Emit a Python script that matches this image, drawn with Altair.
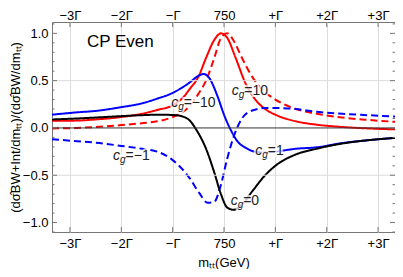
import altair as alt
import pandas as pd

# ---------------- data (x in units of Gamma around 750 GeV) ----------------
x_cg10 = [-3.35, -2.86, -2.5, -2.0, -1.6, -1.3, -1.0, -0.8, -0.67, -0.5, -0.35, -0.19, -0.06, 0.06, 0.22, 0.42, 0.61, 0.8, 1.0, 1.4, 1.8, 2.3, 2.8, 3.33]
y_cg10 = [0.075, 0.078, 0.09, 0.115, 0.15, 0.19, 0.24, 0.32, 0.41, 0.54, 0.74, 0.93, 1.0, 0.955, 0.75, 0.47, 0.3, 0.2, 0.14, 0.07, 0.035, 0.01, -0.005, -0.015]

x_cgm10 = [-3.35, -2.86, -2.5, -2.0, -1.6, -1.3, -1.0, -0.8, -0.67, -0.5, -0.35, -0.19, -0.06, 0.06, 0.19, 0.35, 0.55, 0.8, 1.0, 1.4, 1.8, 2.3, 2.8, 3.33]
y_cgm10 = [-0.005, 0.0, 0.01, 0.03, 0.05, 0.07, 0.115, 0.17, 0.23, 0.36, 0.5, 0.74, 0.95, 1.0, 0.92, 0.74, 0.54, 0.38, 0.3, 0.2, 0.15, 0.11, 0.085, 0.065]

x_cg1 = [-3.35, -2.86, -2.5, -2.0, -1.6, -1.3, -1.0, -0.67, -0.5, -0.4, -0.29, -0.13, 0.0, 0.13, 0.26, 0.42, 0.6, 0.8, 1.0, 1.4, 1.8, 2.3, 2.8, 3.33]
y_cg1 = [0.14, 0.165, 0.18, 0.22, 0.26, 0.31, 0.37, 0.48, 0.55, 0.57, 0.53, 0.34, 0.14, -0.02, -0.14, -0.21, -0.25, -0.26, -0.25, -0.22, -0.205, -0.16, -0.13, -0.105]

x_cgm1 = [-3.35, -2.86, -2.5, -2.0, -1.6, -1.3, -1.0, -0.67, -0.48, -0.32, -0.19, -0.06, 0.06, 0.19, 0.35, 0.55, 0.8, 1.0, 1.4, 1.8, 2.3, 2.8, 3.33]
y_cgm1 = [-0.12, -0.14, -0.155, -0.19, -0.22, -0.25, -0.34, -0.53, -0.69, -0.79, -0.78, -0.6, -0.33, -0.09, 0.1, 0.185, 0.21, 0.21, 0.2, 0.17, 0.15, 0.135, 0.12]

x_cg0 = [-3.35, -2.86, -2.5, -2.0, -1.6, -1.3, -1.0, -0.8, -0.67, -0.55, -0.35, -0.19, -0.06, 0.06, 0.19, 0.35, 0.55, 0.8, 1.0, 1.4, 1.8, 2.3, 2.8, 3.33]
y_cg0 = [0.09, 0.1, 0.11, 0.125, 0.135, 0.14, 0.137, 0.12, 0.08, -0.01, -0.22, -0.47, -0.7, -0.84, -0.865, -0.81, -0.67, -0.5, -0.4, -0.28, -0.22, -0.165, -0.13, -0.105]

series_names = ["cg=10", "cg=-10", "cg=1", "cg=-1", "cg=0"]
series_colors = ["#ff0000", "#ff0000", "#0000ff", "#0000ff", "#000000"]
series_dash = [[1, 0], [7, 4], [1, 0], [7, 4], [1, 0]]

x_tick_vals = [-3, -2, -1, 0, 1, 2, 3]
x_tick_labels = ["−3Γ", "−2Γ", "−Γ", "750", "+Γ", "+2Γ", "+3Γ"]
y_major = [-1.0, -0.5, 0.0, 0.5, 1.0]
y_minor = [-1.1, -0.9, -0.8, -0.7, -0.6, -0.4, -0.3, -0.2, -0.1, 0.1, 0.2, 0.3, 0.4, 0.6, 0.7, 0.8, 0.9, 1.1]
y_grid = [-0.5, 0.5]

lbl_x = [-1.03, 0.15, 0.61, 0.13, -2.16]
lbl_y = [0.22, 0.35, -0.285, -0.81, -0.337]
lbl_val = ["=−10", "=10", "=1", "=0", "=−1"]

# ---------------- build tables ----------------
rows = []
for name, xs, ys in zip(series_names,
                        [x_cg10, x_cgm10, x_cg1, x_cgm1, x_cg0],
                        [y_cg10, y_cgm10, y_cg1, y_cgm1, y_cg0]):
    for i, (a, b) in enumerate(zip(xs, ys)):
        rows.append({"x": a, "y": b, "series": name, "i": i})
df = pd.DataFrame(rows)
lbl = pd.DataFrame({"x": lbl_x, "y": lbl_y, "val": lbl_val, "c": "c", "g": "g"})
xt = pd.DataFrame({"v": x_tick_vals})
ymaj = pd.DataFrame({"v": y_major})
ymin = pd.DataFrame({"v": y_minor})
yg = pd.DataFrame({"v": y_grid})
zero = pd.DataFrame({"v": [0.0]})

W, H = 343, 210
PAD_L, PAD_T, PAD_B = 44, 14, 37
FONT = "Liberation Sans"
xs_ = alt.Scale(domain=[-3.35, 3.33], nice=False, zero=False)
ys_ = alt.Scale(domain=[-1.1, 1.12], nice=False, zero=False)

lab_expr = ""
for v, l in zip(x_tick_vals, x_tick_labels):
    lab_expr += f"datum.value == {v} ? '{l}' : "
lab_expr += "''"

TICK = "#777777"

hgrid = alt.Chart(yg).mark_rule(color="#dcdcdc", strokeWidth=1).encode(
    y=alt.Y("v:Q", scale=ys_, axis=None))

zline = alt.Chart(zero).mark_rule(color="#333333", strokeWidth=1).encode(
    y=alt.Y("v:Q", scale=ys_, axis=None))

# top axis + ticks on top/bottom edges
xtick_top = alt.Chart(xt).mark_rule(color=TICK, strokeWidth=1).encode(
    x=alt.X("v:Q", scale=xs_, title=None,
            axis=alt.Axis(orient="top", values=x_tick_vals, labelExpr=lab_expr,
                          grid=False, ticks=False, domain=False, labelPadding=0,
                          labelFontSize=13, labelFont=FONT, labelColor="#000")),
    y=alt.value(0), y2=alt.value(5))
xtick_bot = alt.Chart(xt).mark_rule(color=TICK, strokeWidth=1).encode(
    x=alt.X("v:Q", scale=xs_, axis=None),
    y=alt.value(H - 5), y2=alt.value(H))

def ytick(data, x0, x1):
    return alt.Chart(data).mark_rule(color=TICK, strokeWidth=1).encode(
        y=alt.Y("v:Q", scale=ys_, axis=None), x=alt.value(x0), x2=alt.value(x1))

yt_lmaj = ytick(ymaj, 0, 5)
yt_lmin = ytick(ymin, 0, 2.5)
yt_rmaj = ytick(ymaj, W - 5, W)
yt_rmin = ytick(ymin, W - 2.5, W)

lines = alt.Chart(df).mark_line(strokeWidth=2, interpolate="monotone").encode(
    x=alt.X("x:Q", scale=xs_, title="mₜₜ(GeV)",
            axis=alt.Axis(orient="bottom", values=x_tick_vals, labelExpr=lab_expr,
                          grid=True, gridColor="#dcdcdc", gridWidth=1,
                          ticks=False, domain=False, labelPadding=5,
                          labelFontSize=13, labelFont=FONT, labelColor="#000",
                          titleFont=FONT, titleFontSize=13, titleFontWeight="normal",
                          titleColor="#000", titleY=34, titleBaseline="alphabetic")),
    y=alt.Y("y:Q", scale=ys_, title="(dσ̂BW+Int/dmₜₜ)/(dσ̂BW/dmₜₜ)",
            axis=alt.Axis(orient="left", values=y_major, format=".1f", grid=False, ticks=False,
                          domain=False, labelPadding=4, labelFontSize=13,
                          labelFont=FONT, labelColor="#000",
                          titleFont=FONT, titleFontSize=13, titleFontWeight="normal",
                          titleColor="#000", titleX=-37, titleY=H / 2,
                          titleBaseline="middle", titleAngle=-90)),
    color=alt.Color("series:N", scale=alt.Scale(domain=series_names, range=series_colors), legend=None),
    strokeDash=alt.StrokeDash("series:N", scale=alt.Scale(domain=series_names, range=series_dash), legend=None),
    order="i:Q",
)

base_lbl = alt.Chart(lbl).encode(
    x=alt.X("x:Q", scale=xs_, axis=None), y=alt.Y("y:Q", scale=ys_, axis=None))

def lbl_layers(halo):
    kw = dict(stroke="white", strokeWidth=4, strokeOpacity=0.75, opacity=1) if halo else {}
    col = "white" if halo else "#222"
    c = base_lbl.mark_text(font=FONT, fontSize=14, fontStyle="italic", align="left",
                           baseline="alphabetic", color=col, **kw).encode(text="c:N")
    g = base_lbl.mark_text(font=FONT, fontSize=10, fontStyle="italic", align="left",
                           baseline="alphabetic", dx=7, dy=3, color=col, **kw).encode(text="g:N")
    v = base_lbl.mark_text(font=FONT, fontSize=14, align="left",
                           baseline="alphabetic", dx=12.5, color=col, **kw).encode(text="val:N")
    return [c, g, v]

title_df = pd.DataFrame({"t": ["CP Even"]})
t_title = alt.Chart(title_df).mark_text(font=FONT, fontSize=17, align="left",
                                        baseline="alphabetic", color="#000").encode(
    text="t:N", x=alt.value(35), y=alt.value(25))

chart = alt.layer(
    lines, hgrid, zline, xtick_top, xtick_bot, yt_lmaj, yt_lmin, yt_rmaj, yt_rmin,
    *lbl_layers(True), *lbl_layers(False), t_title
).resolve_axis(x="independent", y="independent").properties(
    width=W, height=H,
    padding={"left": PAD_L, "top": PAD_T, "right": 0, "bottom": PAD_B},
    autosize=alt.AutoSizeParams(type="none"),
).configure_view(stroke="#777777", strokeWidth=1)

chart.save("out.html", embed_options={"renderer": "svg", "actions": False})
